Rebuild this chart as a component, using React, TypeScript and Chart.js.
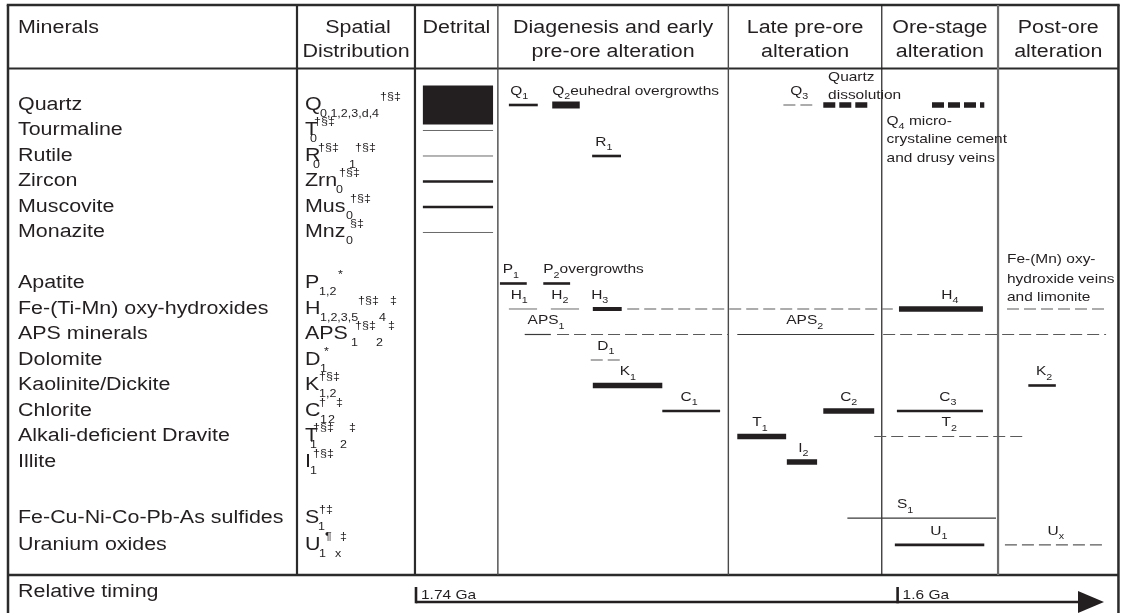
import { useEffect, useRef } from 'react';
import { Chart, registerables } from 'chart.js';

Chart.register(...registerables);

const W = 1121;
const H = 613;
const INK = '#231f20';
const FONT = '"Liberation Sans", Arial, Helvetica, sans-serif';
const SX = 1.19; // horizontal stretch of all lettering

// ---------- mineral rows ----------
const minerals = [
  'Quartz', 'Tourmaline', 'Rutile', 'Zircon', 'Muscovite', 'Monazite',
  'Apatite', 'Fe-(Ti-Mn) oxy-hydroxides', 'APS minerals', 'Dolomite',
  'Kaolinite/Dickite', 'Chlorite', 'Alkali-deficient Dravite', 'Illite',
  'Fe-Cu-Ni-Co-Pb-As sulfides', 'Uranium oxides',
];
// vertical slot of each row; skipped slots separate the mineral groups
const rowSlots = [0, 1, 2, 3, 4, 5, 7, 8, 9, 10, 11, 12, 13, 14, 16.2, 17.25];

// spatial distribution codes: [text, kind, dx]  (m = symbol, b = subscript, p = superscript)
const spatialCodes: [string, string, number][][] = [
  [['Q', 'm', 0], ['0,1,2,3,d,4', 'b', 15], ['†§‡', 'p', 75]],
  [['T', 'm', 0], ['0', 'b', 5], ['†§‡', 'p', 9]],
  [['R', 'm', 0], ['0', 'b', 8], ['†§‡', 'p', 13], ['1', 'b', 44], ['†§‡', 'p', 50]],
  [['Zrn', 'm', 0], ['0', 'b', 31], ['†§‡', 'p', 34]],
  [['Mus', 'm', 0], ['0', 'b', 41], ['†§‡', 'p', 45]],
  [['Mnz', 'm', 0], ['0', 'b', 41], ['§‡', 'p', 45]],
  [['P', 'm', 0], ['1,2', 'b', 14], ['*', 'p', 33]],
  [['H', 'm', 0], ['1,2,3,5', 'b', 15], ['†§‡', 'p', 53], ['4', 'b', 74], ['‡', 'p', 85]],
  [['APS', 'm', 0], ['1', 'b', 46], ['†§‡', 'p', 50], ['2', 'b', 71], ['‡', 'p', 83]],
  [['D', 'm', 0], ['1', 'b', 15], ['*', 'p', 19]],
  [['K', 'm', 0], ['1,2', 'b', 14], ['†§‡', 'p', 14]],
  [['C', 'm', 0], ['1', 'b', 15], ['†', 'p', 14], ['2', 'b', 23], ['‡', 'p', 31]],
  [['T', 'm', 0], ['1', 'b', 5], ['†§‡', 'p', 8], ['2', 'b', 35], ['‡', 'p', 44]],
  [['I', 'm', 0], ['1', 'b', 5], ['†§‡', 'p', 8]],
  [['S', 'm', 0], ['1', 'b', 13], ['†‡', 'p', 14]],
  [['U', 'm', 0], ['1', 'b', 14], ['¶', 'p', 20], ['x', 'b', 30], ['‡', 'p', 35]],
];

// ---------- paragenetic stages on the relative-time axis (0 = 1.74 Ga, 70 = 1.6 Ga) ----------
const stageNames = [
  ['Detrital'],
  ['Diagenesis and early', 'pre-ore alteration'],
  ['Late pre-ore', 'alteration'],
  ['Ore-stage', 'alteration'],
  ['Post-ore', 'alteration'],
];
const stageBounds = [-0.15, 11.9, 45.4, 67.7, 84.6, 102.1];

// ---------- timing bars ----------
const barMineral = [
  0, 0, 0, 0, 0, 0,
  1, 2, 2, 3, 4, 5,
  6, 6,
  7, 7, 7, 7, 7, 7,
  8, 8, 8, 8,
  9,
  10, 10,
  11, 11, 11,
  12, 12,
  13,
  14,
  15, 15,
];
const barStart = [
  1.0, 13.5, 19.8, 53.4, 59.2, 75.0,
  1.0, 1.0, 25.6, 1.0, 1.0, 1.0,
  12.2, 18.5,
  13.5, 19.6, 25.7, 30.7, 70.2, 85.9,
  15.8, 20.5, 46.7, 67.9,
  25.4,
  25.7, 89.0,
  35.8, 59.2, 69.9,
  46.7, 66.6,
  53.9,
  62.7,
  69.6, 85.6,
];
const barEnd = [
  11.2, 17.7, 23.8, 57.6, 65.7, 82.6,
  11.2, 11.2, 29.8, 11.2, 11.2, 11.2,
  16.1, 22.4,
  17.6, 23.7, 29.9, 69.3, 82.4, 100.3,
  19.6, 45.4, 66.6, 100.3,
  29.7,
  35.8, 93.0,
  44.2, 66.6, 82.4,
  53.8, 88.4,
  58.3,
  84.3,
  82.6, 100.0,
];
const barStyle = [
  'box', 'med', 'heavy', 'dash', 'heavyDash', 'heavyDash',
  'hair', 'hair', 'med', 'med', 'med', 'hair',
  'med', 'med',
  'hair', 'hair', 'bold', 'dash', 'thick', 'dash',
  'thin', 'dash', 'thin', 'dash',
  'dash',
  'thick', 'med',
  'med', 'thick', 'med',
  'thick', 'dash',
  'thick',
  'thin',
  'med', 'dash',
];

// bar labels: symbol, subscript, trailing text, mineral row, time position, alignment
const barLabels: [string, string, string, number, number, string][] = [
  ['Q', '1', '', 0, 15.0, 'center'],
  ['Q', '2', 'euhedral overgrowths', 0, 19.8, 'left'],
  ['Q', '3', '', 0, 55.7, 'center'],
  ['R', '1', '', 2, 27.3, 'center'],
  ['P', '1', '', 6, 13.8, 'center'],
  ['P', '2', 'overgrowths', 6, 18.5, 'left'],
  ['H', '1', '', 7, 15.0, 'center'],
  ['H', '2', '', 7, 20.9, 'center'],
  ['H', '3', '', 7, 26.7, 'center'],
  ['H', '4', '', 7, 77.6, 'center'],
  ['APS', '1', '', 8, 18.9, 'center'],
  ['APS', '2', '', 8, 56.5, 'center'],
  ['D', '1', '', 9, 27.6, 'center'],
  ['K', '1', '', 10, 30.8, 'center'],
  ['K', '2', '', 10, 91.3, 'center'],
  ['C', '1', '', 11, 39.7, 'center'],
  ['C', '2', '', 11, 62.9, 'center'],
  ['C', '3', '', 11, 77.3, 'center'],
  ['T', '1', '', 12, 50.0, 'center'],
  ['T', '2', '', 12, 77.5, 'center'],
  ['I', '2', '', 13, 56.3, 'center'],
  ['S', '1', '', 14, 71.1, 'center'],
  ['U', '1', '', 15, 76.0, 'center'],
  ['U', 'x', '', 15, 93.0, 'center'],
];

// free notes: row, time position, line offsets, lines of [text, kind]
const notes: { row: number; t: number; dy: number[]; lines: [string, string][][] }[] = [
  { row: 0, t: 59.9, dy: [-24, -6], lines: [[['Quartz', 'm']], [['dissolution', 'm']]] },
  {
    row: 0, t: 68.4, dy: [20, 38, 57],
    lines: [[['Q', 'm'], ['4', 'b'], [' micro-', 'm']], [['crystaline cement', 'm']], [['and drusy veins', 'm']]],
  },
  {
    row: 7, t: 85.9, dy: [-46, -26, -8],
    lines: [[['Fe-(Mn) oxy-', 'm']], [['hydroxide veins', 'm']], [['and limonite', 'm']]],
  },
];

// absolute ages marked on the timing arrow
const timeMarks = [0, 70];
const timeMarkLabels = ['1.74 Ga', '1.6 Ga'];
const timeEnd = 100;

// ---------- drawing styles ----------
const barStyles: Record<string, { w: number; c: string; d?: number[] }> = {
  box: { w: 39, c: INK },
  heavy: { w: 7, c: INK },
  thick: { w: 5.5, c: INK },
  bold: { w: 4, c: INK },
  med: { w: 2.6, c: INK },
  thin: { w: 1.2, c: '#3a3a3a' },
  hair: { w: 1, c: '#6a6a6a' },
  dash: { w: 1.2, c: '#5a5a5a', d: [12, 5] },
  heavyDash: { w: 5.5, c: INK, d: [12, 4] },
};

// axis windows (whole canvas is the plot area)
const X_MIN = -60.465;
const X_MAX = 102.471;
const Y_MIN = -4.1176;
const Y_MAX = 19.922;

const TABLE = { left: 8, top: 5, head: 68.5, foot: 575, col1: 297 };

type Ctx = CanvasRenderingContext2D;

function textWidth(ctx: Ctx, s: string, size: number) {
  ctx.save();
  ctx.font = `${size}px ${FONT}`;
  const w = ctx.measureText(s).width * SX;
  ctx.restore();
  return w;
}

function put(ctx: Ctx, s: string, x: number, y: number, size: number, align = 'left', base: CanvasTextBaseline = 'middle', color = INK) {
  const w = textWidth(ctx, s, size);
  const x0 = align === 'center' ? x - w / 2 : align === 'right' ? x - w : x;
  ctx.save();
  ctx.font = `${size}px ${FONT}`;
  ctx.textBaseline = base;
  ctx.textAlign = 'left';
  ctx.fillStyle = color;
  ctx.translate(x0, y);
  ctx.scale(SX, 1);
  ctx.fillText(s, 0, 0);
  ctx.restore();
  return w;
}

const NAME = 18;
const MAIN = 13;
const SUB = 9;

function richWidth(ctx: Ctx, tokens: [string, string][]) {
  return tokens.reduce((a, [s, k]) => a + textWidth(ctx, s, k === 'b' ? SUB : MAIN), 0);
}

function drawRich(ctx: Ctx, tokens: [string, string][], x: number, baseline: number) {
  let cx = x;
  tokens.forEach(([s, k]) => {
    if (k === 'b') cx += put(ctx, s, cx, baseline + 4.5, SUB, 'left', 'alphabetic');
    else cx += put(ctx, s, cx, baseline, MAIN, 'left', 'alphabetic');
  });
}

function seg(ctx: Ctx, x1: number, y1: number, x2: number, y2: number, w: number, c: string) {
  ctx.save();
  ctx.strokeStyle = c;
  ctx.lineWidth = w;
  ctx.lineCap = 'butt';
  ctx.beginPath();
  ctx.moveTo(x1, y1);
  ctx.lineTo(x2, y2);
  ctx.stroke();
  ctx.restore();
}

const paperPlugin = {
  id: 'paper',
  beforeDraw(chart: any) {
    const ctx: Ctx = chart.ctx;
    ctx.save();
    ctx.fillStyle = '#ffffff';
    ctx.fillRect(0, 0, chart.width, chart.height);
    ctx.restore();
  },
  beforeDatasetsDraw(chart: any) {
    const ctx: Ctx = chart.ctx;
    const px = (t: number) => chart.scales.x.getPixelForValue(t);
    const right = px(stageBounds[stageBounds.length - 1]);
    const { left, top, head, foot, col1 } = TABLE;
    const frame = '#2b2b2b';
    seg(ctx, left - 1.25, top, right + 1.25, top, 2.5, frame);
    seg(ctx, left, top, left, H, 2.5, frame);
    seg(ctx, right, top, right, H, 2.5, frame);
    seg(ctx, left, head, right, head, 2.2, frame);
    seg(ctx, left, foot, right, foot, 2.5, frame);
    seg(ctx, col1, top, col1, foot, 2.2, frame);
    seg(ctx, px(stageBounds[0]), top, px(stageBounds[0]), foot, 2.2, frame);
    const widths = [1.4, 1.4, 1.2, 2.2];
    const colors = ['#4a4a4a', '#4a4a4a', '#231f20', '#6d6d6d'];
    for (let i = 1; i < stageBounds.length - 1; i++) {
      const x = px(stageBounds[i]);
      seg(ctx, x, top, x, foot, widths[i - 1], colors[i - 1]);
    }
  },
  afterDatasetsDraw(chart: any) {
    const ctx: Ctx = chart.ctx;
    const px = (t: number) => chart.scales.x.getPixelForValue(t);
    const py = (r: number) => chart.scales.y.getPixelForValue(r);

    // header
    put(ctx, 'Minerals', 18, 28, NAME);
    const sCenter = (TABLE.col1 + px(stageBounds[0])) / 2;
    put(ctx, 'Spatial', sCenter + 2, 28, NAME, 'center');
    put(ctx, 'Distribution', sCenter, 52, NAME, 'center');
    stageNames.forEach((lines, i) => {
      const cx = (px(stageBounds[i]) + px(stageBounds[i + 1])) / 2;
      lines.forEach((s, j) => put(ctx, s, cx, 28 + j * 24, NAME, 'center'));
    });

    // mineral names and spatial codes
    minerals.forEach((m, i) => {
      const y = py(rowSlots[i]);
      put(ctx, m, 18, y, NAME);
      spatialCodes[i].forEach(([s, k, dx]) => {
        const x = 305 + dx;
        if (k === 'm') put(ctx, s, x, y, NAME);
        else if (k === 'b') put(ctx, s, x, y + 9, 10.5);
        else put(ctx, s, x, y - 8, 10.5);
      });
    });

    // bar labels
    barLabels.forEach(([main, sub, tail, row, t, align]) => {
      const tokens: [string, string][] = [[main, 'm'], [sub, 'b']];
      if (tail) tokens.push([tail, 'm']);
      const w = richWidth(ctx, tokens);
      const x = align === 'center' ? px(t) - w / 2 : px(t);
      drawRich(ctx, tokens, x, py(rowSlots[row]) - 10);
    });

    // notes
    notes.forEach((n) => {
      n.lines.forEach((tokens, j) => drawRich(ctx, tokens, px(n.t), py(rowSlots[n.row]) + n.dy[j]));
    });

    // relative timing arrow
    put(ctx, 'Relative timing', 18, 592, NAME);
    const ay = 602;
    const tip = px(timeEnd);
    seg(ctx, px(timeMarks[0]), ay, tip - 22, ay, 2.6, INK);
    ctx.save();
    ctx.fillStyle = INK;
    ctx.beginPath();
    ctx.moveTo(tip, ay);
    ctx.lineTo(tip - 26, ay - 11);
    ctx.lineTo(tip - 26, ay + 11);
    ctx.closePath();
    ctx.fill();
    ctx.restore();
    timeMarks.forEach((t, i) => {
      const x = px(t);
      seg(ctx, x, 587, x, ay + 1.3, 2.6, INK);
      put(ctx, timeMarkLabels[i], x + 5, 599, 13, 'left', 'alphabetic');
    });
  },
};

export default function App() {
  const ref = useRef<HTMLCanvasElement>(null);

  useEffect(() => {
    if (!ref.current) return;
    const datasets = barStart.map((s, i) => {
      const st = barStyles[barStyle[i]];
      const y = rowSlots[barMineral[i]];
      return {
        data: [{ x: s, y }, { x: barEnd[i], y }],
        showLine: true,
        borderColor: st.c,
        borderWidth: st.w,
        borderDash: st.d || [],
        borderCapStyle: 'butt' as const,
        pointRadius: 0,
        pointHoverRadius: 0,
        fill: false,
      };
    });
    const chart = new Chart(ref.current, {
      type: 'scatter',
      data: { datasets },
      options: {
        animation: false,
        responsive: false,
        devicePixelRatio: 1,
        events: [],
        layout: { padding: 0 },
        plugins: { legend: { display: false }, tooltip: { enabled: false } },
        scales: {
          x: { type: 'linear', display: false, min: X_MIN, max: X_MAX },
          y: { type: 'linear', display: false, min: Y_MIN, max: Y_MAX, reverse: true },
        },
      },
      plugins: [paperPlugin],
    });
    return () => chart.destroy();
  }, []);

  return (
    <div style={{ position: 'absolute', left: 0, top: 0, width: W, height: H, background: '#fff' }}>
      <canvas ref={ref} width={W} height={H} style={{ display: 'block', width: W, height: H }} />
    </div>
  );
}
